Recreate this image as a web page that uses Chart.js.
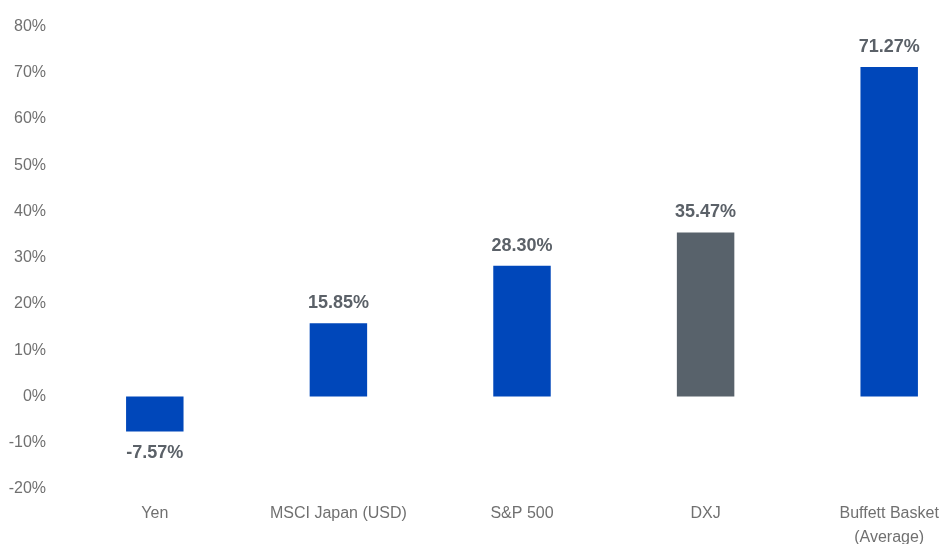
<!DOCTYPE html>
<html>
<head>
<meta charset="utf-8">
<script src="https://cdn.jsdelivr.net/npm/chart.js@4"></script>
<style>
	html, body { margin: 0; padding: 0; background: #fff; overflow: hidden; }
	#wrap { position: relative; width: 990px; height: 560px; }
</style>
</head>
<body>
<div id="wrap"><canvas id="chart"></canvas></div>
<script>
// chart data
const categories = ['Yen', 'MSCI Japan (USD)', 'S&P 500', 'DXJ', ['Buffett Basket', '(Average)']];
const returns = [-7.57, 15.85, 28.30, 35.47, 71.27];
const barColors = ['#0047ba', '#0047ba', '#0047ba', '#58626b', '#0047ba'];
const yTicks = [-20, -10, 0, 10, 20, 30, 40, 50, 60, 70, 80];

// value labels above / below each bar
const valueLabels = {
	id: 'valueLabels',
	afterDatasetsDraw(chart) {
		const ctx = chart.ctx;
		const meta = chart.getDatasetMeta(0);
		ctx.save();
		ctx.font = 'bold 18px "Liberation Sans", Arial, sans-serif';
		ctx.fillStyle = '#5b6168';
		ctx.textAlign = 'center';
		ctx.textBaseline = 'middle';
		meta.data.forEach((bar, i) => {
			const v = returns[i];
			const y = v >= 0 ? bar.y - 20 : bar.y + 22;
			ctx.fillText(v.toFixed(2) + '%', bar.x, y);
		});
		ctx.restore();
	}
};

new Chart(document.getElementById('chart'), {
	type: 'bar',
	data: {
		labels: categories,
		datasets: [{
			data: returns,
			backgroundColor: barColors,
			borderWidth: 0,
			categoryPercentage: 1,
			barPercentage: 0.313
		}]
	},
	options: {
		responsive: true,
		maintainAspectRatio: false,
		animation: false,
		layout: { padding: { top: 23, right: 9, bottom: 0, left: 0 } },
		plugins: { legend: { display: false }, tooltip: { enabled: false } },
		scales: {
			x: {
				grid: { display: false, drawTicks: false },
				border: { display: false },
				ticks: {
					color: '#707070',
					font: { family: '"Liberation Sans", Arial, sans-serif', size: 16, lineHeight: 1.5 },
					padding: 13,
					maxRotation: 0,
					autoSkip: false
				},
				afterFit(scale) { scale.height = 71; }
			},
			y: {
				min: -20,
				max: 80,
				grid: { display: false, drawTicks: false },
				border: { display: false },
				afterBuildTicks(scale) { scale.ticks = yTicks.map(v => ({ value: v })); },
				ticks: {
					color: '#707070',
					font: { family: '"Liberation Sans", Arial, sans-serif', size: 16 },
					padding: 17,
					callback: v => v + '%'
				},
				afterFit(scale) { scale.width = 63; }
			}
		}
	},
	plugins: [valueLabels]
});
</script>
</body>
</html>
